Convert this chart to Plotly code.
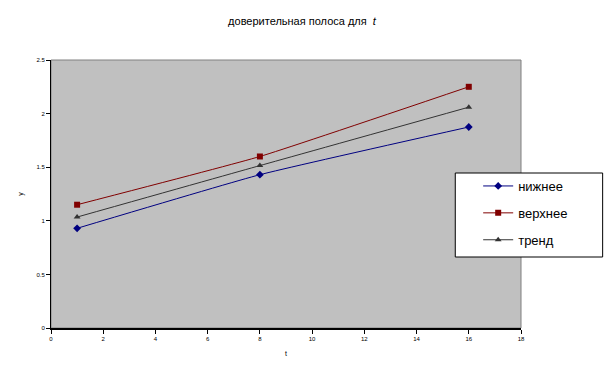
import plotly.graph_objects as go

t_vals = [1, 8, 16]
lower = [0.93, 1.43, 1.875]
upper = [1.15, 1.60, 2.25]
trend = [1.035, 1.515, 2.06]

series_names = ["нижнее", "верхнее", "тренд"]
x_ticks = [0, 2, 4, 6, 8, 10, 12, 14, 16, 18]
y_ticks = [0, 0.5, 1, 1.5, 2, 2.5]

fig = go.Figure()
styles = [
    ("#000080", "diamond"),
    ("#800000", "square"),
    ("#333333", "triangle-up"),
]
for i, (name, vals, (col, sym)) in enumerate(zip(series_names, [lower, upper, trend], styles)):
    fig.add_trace(go.Scatter(
        x=t_vals, y=vals, name=name, mode="lines+markers", legendgroup=f"g{i}",
        line=dict(color=col, width=1, shape="spline", smoothing=0.4),
        marker=dict(color=col, symbol=sym, size=6),
    ))

PX0, PY0, PW, PH = 49, 328, 472, 268  # plot area reference in page pixels

fig.update_layout(
    width=612, height=380,
    margin=dict(l=41, r=99, t=52, b=60),
    paper_bgcolor="white",
    plot_bgcolor="#C0C0C0",
    font=dict(family="Liberation Sans, Arial", color="black"),
    title=dict(text="доверительная полоса для  <i>t</i>", x=294 / 612, xanchor="center",
               y=1 - 13/380, yanchor="middle", font=dict(size=11, color="black")),
    showlegend=True,
    legend=dict(x=(478 - PX0) / PW, y=(PY0 - 171) / PH, xanchor="left", yanchor="top",
                bgcolor="rgba(0,0,0,0)", borderwidth=0, traceorder="grouped",
                font=dict(size=13, color="black"), tracegroupgap=7, itemwidth=30),
    xaxis=dict(range=[0, 18], tickvals=x_ticks, showgrid=False, zeroline=False,
               ticks="outside", ticklen=4, tickcolor="black",
               tickfont=dict(size=6, color="black"),
               showline=True, linecolor="black", linewidth=2, mirror=False,
               title=dict(text="t", font=dict(size=7, color="black"), standoff=10)),
    yaxis=dict(range=[0, 2.5], tickvals=y_ticks, showgrid=False, zeroline=False,
               ticks="outside", ticklen=4, tickcolor="black",
               tickfont=dict(size=6, color="black"),
               showline=True, linecolor="black", linewidth=1,
               title=dict(text="y", font=dict(size=7, color="black"), standoff=12)),
    shapes=[
        dict(type="rect", xref="paper", yref="paper", x0=0, x1=1, y0=0, y1=1,
             line=dict(color="#808080", width=1), layer="below"),
        dict(type="rect", xref="paper", yref="paper",
             x0=(455 - PX0) / PW, x1=(603 - PX0) / PW,
             y0=(PY0 - 257) / PH, y1=(PY0 - 173) / PH,
             line=dict(color="black", width=1), fillcolor="white", layer="above"),
    ],
)

fig.write_html("out.html")
